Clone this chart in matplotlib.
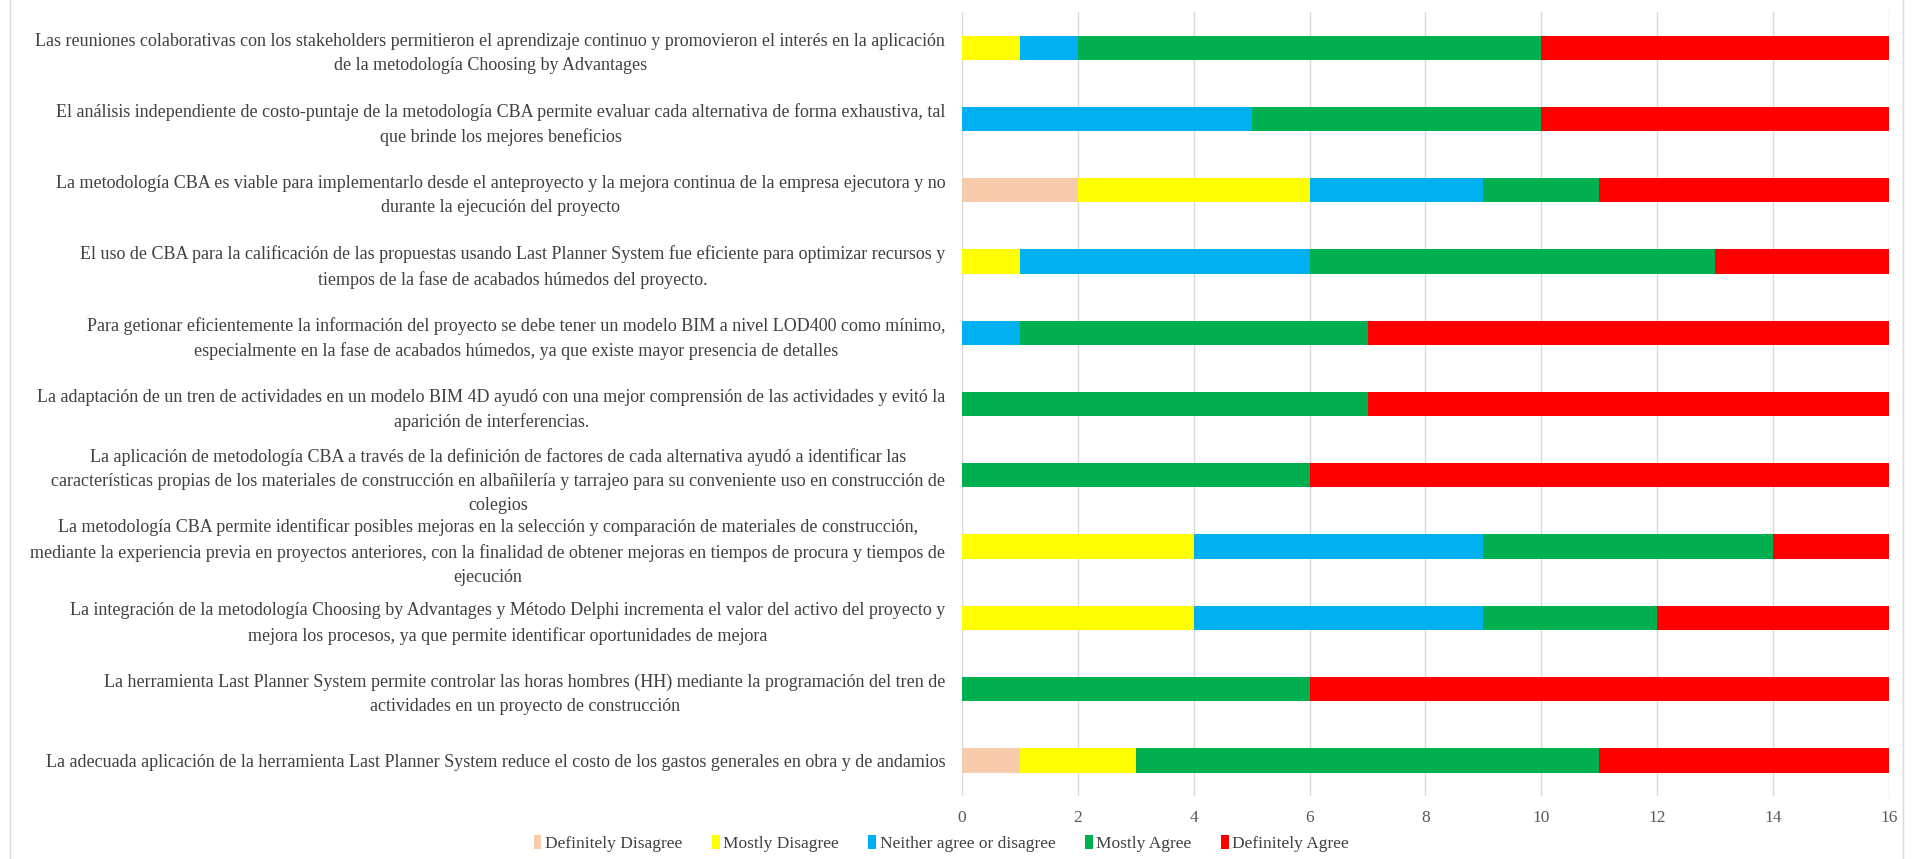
import numpy as np
import matplotlib.pyplot as plt
from matplotlib.lines import Line2D

plt.rcParams['font.family'] = ['Liberation Serif', 'DejaVu Serif']

# Afirmaciones de la encuesta (de arriba hacia abajo)
preguntas = [
    "Las reuniones colaborativas con los stakeholders permitieron el aprendizaje continuo y promovieron el interés en la aplicación\nde la metodología Choosing by Advantages",
    "El análisis independiente de costo-puntaje de la metodología CBA permite evaluar cada alternativa de forma exhaustiva, tal\nque brinde los mejores beneficios",
    "La metodología CBA es viable para implementarlo desde el anteproyecto y la mejora continua de la empresa ejecutora y no\ndurante la ejecución del proyecto",
    "El uso de CBA para la calificación de las propuestas usando Last Planner System fue eficiente para optimizar recursos y\ntiempos de la fase de acabados húmedos del proyecto.",
    "Para getionar eficientemente la información del proyecto se debe tener un modelo BIM a nivel LOD400 como mínimo,\nespecialmente en la fase de acabados húmedos, ya que existe mayor presencia de detalles",
    "La adaptación de un tren de actividades en un modelo BIM 4D ayudó con una mejor comprensión de las actividades y evitó la\naparición de interferencias.",
    "La aplicación de metodología CBA a través de la definición de factores de cada alternativa ayudó a identificar las\ncaracterísticas propias de los materiales de construcción en albañilería y tarrajeo para su conveniente uso en construcción de\ncolegios",
    "La metodología CBA permite identificar posibles mejoras en la selección y comparación de materiales de construcción,\nmediante la experiencia previa en proyectos anteriores, con la finalidad de obtener mejoras en tiempos de procura y tiempos de\nejecución",
    "La integración de la metodología Choosing by Advantages y Método Delphi incrementa el valor del activo del proyecto y\nmejora los procesos, ya que permite identificar oportunidades de mejora",
    "La herramienta Last Planner System permite controlar las horas hombres (HH) mediante la programación del tren de\nactividades en un proyecto de construcción",
    "La adecuada aplicación de la herramienta Last Planner System reduce el costo de los gastos generales en obra y de andamios",
]

escala = ["Definitely Disagree", "Mostly Disagree", "Neither agree or disagree",
          "Mostly Agree", "Definitely Agree"]
colores = ["#F8CBAD", "#FFFF00", "#00B0F0", "#00B050", "#FF0000"]

# Número de respuestas por nivel, en el mismo orden que las preguntas
def_disagree = [0, 0, 2, 0, 0, 0, 0, 0, 0, 0, 1]
mostly_disagree = [1, 0, 4, 1, 0, 0, 0, 4, 4, 0, 2]
neither = [1, 5, 3, 5, 1, 0, 0, 5, 5, 0, 0]
mostly_agree = [8, 5, 2, 7, 6, 7, 6, 5, 3, 6, 8]
def_agree = [6, 6, 5, 3, 9, 9, 10, 2, 4, 10, 5]

series = [def_disagree, mostly_disagree, neither, mostly_agree, def_agree]

fig = plt.figure(figsize=(19.21, 8.59), dpi=100)
ax = fig.add_axes([0.5008, 0.0733, 0.4825, 0.9127])

y = np.arange(len(preguntas))
izquierda = np.zeros(len(preguntas))
for valores, nombre, color in zip(series, escala, colores):
    ax.barh(y, valores, left=izquierda, height=0.34, color=color, label=nombre, zorder=3)
    izquierda += np.array(valores)

ax.set_ylim(len(preguntas) - 0.5, -0.5)
ax.set_xlim(0, 16)
ax.set_xticks(np.arange(0, 17, 2))
ax.set_yticks(y)
ax.set_yticklabels(preguntas, fontsize=13.0, color='#404040', linespacing=1.55,
                   multialignment='center')
ax.tick_params(axis='y', length=0, pad=12)
ax.tick_params(axis='x', length=0, pad=10, labelsize=12.5, labelcolor='#595959')
ax.grid(axis='x', color='#D9D9D9', linewidth=1, zorder=0)
for s in ax.spines.values():
    s.set_visible(False)

ax.legend(loc='center', bbox_to_anchor=(0.49, 0.018), bbox_transform=fig.transFigure,
          ncol=5, frameon=False, fontsize=12.5, handlelength=0.45, handleheight=0.9,
          handletextpad=0.2, columnspacing=1.7, labelcolor='#404040')

# marco del gráfico
fig.add_artist(Line2D([0.0052, 0.0052], [0, 1], color='#D9D9D9', lw=1))
fig.add_artist(Line2D([0.9906, 0.9906], [0, 1], color='#D9D9D9', lw=1))

fig.savefig('out.png', dpi=100)
